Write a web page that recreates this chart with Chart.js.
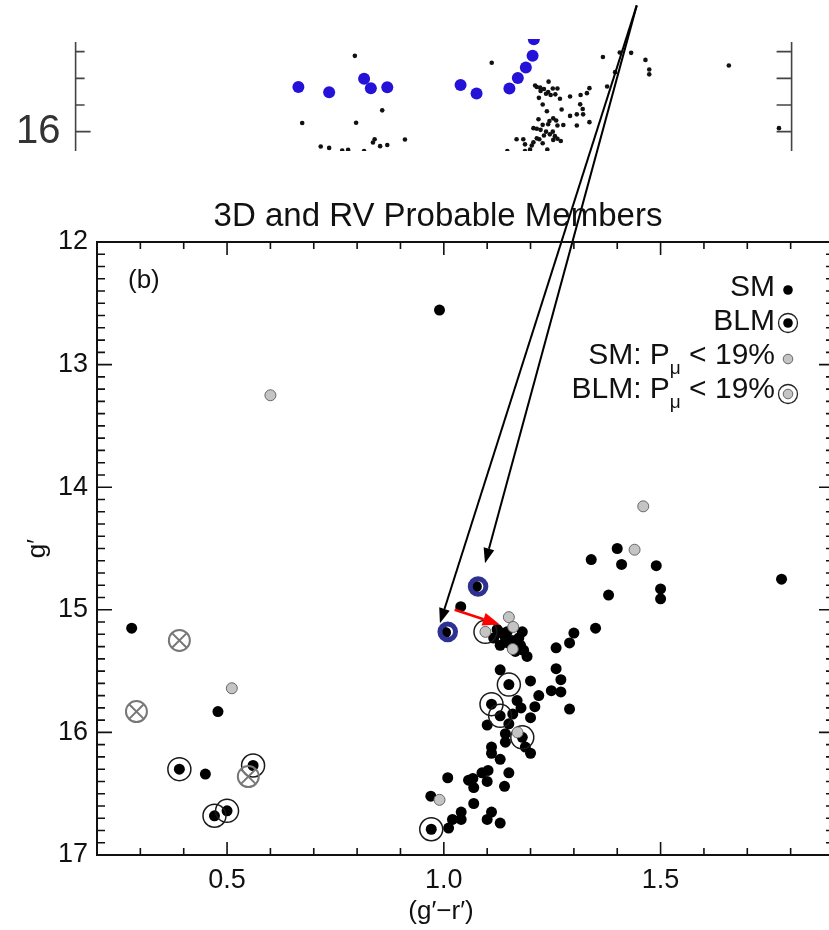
<!DOCTYPE html>
<html>
<head>
<meta charset="utf-8">
<script src="https://cdn.jsdelivr.net/npm/chart.js@4.4.1/dist/chart.umd.min.js"></script>
<style>
html, body { margin: 0; padding: 0; overflow: hidden; background: #fff; }
#wrap { position: relative; width: 829px; height: 930px; overflow: hidden; }
#inset { position: absolute; left: 0; top: 0; z-index: 1; }
#main { position: absolute; left: 0; top: 0; z-index: 2; }
</style>
</head>
<body>
<div id="wrap">
  <canvas id="inset" width="829" height="190" style="width:829px;height:190px"></canvas>
  <canvas id="main" width="847" height="930" style="width:847px;height:930px"></canvas>
</div>
<script>
// ---- panel (b) data: colour (g'-r') and magnitude g' ----
// single members
const smX = [0.99, 1.40, 1.34, 1.41, 1.49, 1.779, 1.50, 1.50, 1.38, 1.039, 1.075, 1.004,
  1.35, 1.30, 1.29, 1.259,
  1.123, 1.134, 1.146, 1.142, 1.157, 1.181, 1.173, 1.13, 1.148, 1.177, 1.165, 1.184, 1.192, 1.115,
  1.259, 1.27, 1.248, 1.27, 1.219, 1.29, 1.20, 1.13, 1.169, 1.178, 1.21, 1.20, 1.159, 1.15, 1.10,
  1.142, 1.142, 1.188, 1.20, 1.11, 1.11, 1.13,
  1.15, 1.088, 1.102, 1.10, 1.057, 1.067, 1.069, 1.14, 1.009, 0.97, 1.069, 1.04, 1.11, 1.02, 1.04,
  1.10, 1.13, 1.011,
  0.28, 0.479, 0.45];
const smY = [12.555, 14.50, 14.59, 14.63, 14.64, 14.75, 14.83, 14.91, 14.88, 14.975, 14.81, 15.185,
  15.15, 15.19, 15.27, 15.31,
  15.16, 15.19, 15.18, 15.23, 15.25, 15.18, 15.23, 15.29, 15.27, 15.29, 15.34, 15.33, 15.38, 15.23,
  15.48, 15.57, 15.66, 15.67, 15.70, 15.81, 15.58, 15.49, 15.74, 15.80, 15.79, 15.88, 15.85, 15.93, 15.94,
  16.01, 16.08, 16.12, 16.17, 16.12, 16.17, 16.22,
  16.33, 16.33, 16.31, 16.40, 16.39, 16.375, 16.45, 16.44, 16.37, 16.52, 16.58, 16.65, 16.65, 16.71, 16.71,
  16.71, 16.74, 16.78,
  15.15, 15.83, 16.34];
// binary-like members
const blmX = [0.39, 0.56, 0.50, 0.471, 0.971, 1.15, 1.11, 1.13, 1.181];
const blmY = [16.30, 16.27, 16.64, 16.68, 16.79, 15.61, 15.77, 15.865, 16.04];
// SM with P_mu < 19%
const smLowX = [0.60, 1.46, 1.44, 0.511, 1.15, 1.16, 1.159, 1.17, 0.99];
const smLowY = [13.25, 14.156, 14.51, 15.64, 15.06, 15.14, 15.32, 16.00, 16.55];
// BLM with P_mu < 19%
const blmLowX = [1.096];
const blmLowY = [15.18];
// crossed circles
const crossX = [0.39, 0.291, 0.549];
const crossY = [15.25, 15.83, 16.36];
// highlighted stars (blue rings)
const ringX = [1.079, 1.009];
const ringY = [14.81, 15.18];
// arrows: from panel (a) stars to panel (b)
const arrowFrom = [[1.445, 10.07], [1.445, 10.07]];
const arrowTo = [[0.991, 15.11], [1.095, 14.62]];
const redFrom = [1.025, 15.00];
const redTo = [1.129, 15.12];

const xTickValues = [0.5, 1.0, 1.5];
const xTickLabels = ['0.5', '1.0', '1.5'];
const yTickValues = [12, 13, 14, 15, 16, 17];
const yTickLabels = ['12', '13', '14', '15', '16', '17'];

// ---- panel (a) crop at the top ----
const aBlueX = [0.729, 0.802, 0.885, 0.901, 0.94, 1.114, 1.152, 1.23, 1.25, 1.269, 1.285, 1.288];
const aBlueY = [15.581, 15.631, 15.504, 15.594, 15.583, 15.5625, 15.642, 15.596, 15.496, 15.398, 15.289, 15.133];
const aStarX = [0.863, 1.188, 0.738, 0.866, 0.928, 0.782, 0.802, 0.833, 0.847, 0.885, 0.91, 0.906, 0.923, 0.94, 0.982,
  1.452, 1.492, 1.519, 1.553, 1.562, 1.562, 1.751, 1.481, 1.462, 1.42, 1.87,
  1.323, 1.291, 1.295, 1.303, 1.312, 1.322, 1.333, 1.344, 1.304, 1.317, 1.328, 1.339, 1.30, 1.35, 1.374, 1.399, 1.414,
  1.309, 1.354, 1.319, 1.398, 1.404, 1.374, 1.39, 1.405, 1.299, 1.334, 1.341, 1.325, 1.309, 1.322, 1.344, 1.358, 1.39, 1.42,
  1.295, 1.287, 1.304, 1.317, 1.333, 1.326, 1.312, 1.338, 1.344, 1.301, 1.295, 1.247, 1.263, 1.287, 1.309, 1.334, 1.352,
  1.267, 1.283, 1.279, 1.32, 1.225, 1.267];
const aStarY = [15.289, 15.354, 15.919, 15.917, 15.80, 16.139, 16.152, 16.177, 16.171, 16.181, 16.071, 16.102, 16.136, 16.125, 16.073,
  15.30, 15.258, 15.261, 15.327, 15.417, 15.4625, 15.379, 15.442, 15.577, 15.592, 15.967,
  15.531, 15.567, 15.581, 15.5875, 15.60, 15.629, 15.596, 15.596, 15.619, 15.644, 15.656, 15.65, 15.683, 15.692, 15.671, 15.656, 15.639,
  15.746, 15.792, 15.808, 15.744, 15.7875, 15.852, 15.8375, 15.8375, 15.883, 15.875, 15.896, 15.90, 15.936, 15.931, 15.942, 15.9375, 15.942, 15.911,
  15.973, 15.967, 15.983, 16.00, 16.00, 16.025, 16.036, 16.042, 16.067, 16.071, 16.0625, 16.071, 16.071, 16.10, 16.108, 16.077, 16.0875,
  16.119, 16.129, 16.167, 16.167, 16.181, 16.181];
const aYTicks = [15.25, 15.5, 15.75, 16];
const aYLabelValues = [16];
const aYLabels = ['16'];

const FONT = "'Liberation Sans', Arial, Helvetica, sans-serif";
const pts = (xs, ys) => xs.map((v, i) => ({ x: v, y: ys[i] }));
const clear = 'rgba(0,0,0,0)';

// inward tick marks + frame for panel (b)
const frameTicks = {
  id: 'frameTicks',
  afterDraw(chart) {
    const { ctx, chartArea: a, scales: { x, y } } = chart;
    ctx.save();
    ctx.strokeStyle = '#111';
    ctx.lineWidth = 2;
    ctx.strokeRect(a.left, a.top, a.right - a.left, a.bottom - a.top);
    ctx.lineWidth = 1.6;
    ctx.beginPath();
    for (let i = 3; i < 19; i++) {
      const px = x.getPixelForValue(i / 10);
      const len = i % 5 === 0 ? 13 : 7;
      ctx.moveTo(px, a.bottom); ctx.lineTo(px, a.bottom - len);
      ctx.moveTo(px, a.top); ctx.lineTo(px, a.top + len);
    }
    for (let i = 121; i < 170; i++) {
      const py = y.getPixelForValue(i / 10);
      const len = i % 10 === 0 ? 15 : 8;
      ctx.moveTo(a.left, py); ctx.lineTo(a.left + len, py);
      ctx.moveTo(a.right, py); ctx.lineTo(a.right - len, py);
    }
    ctx.stroke();
    ctx.restore();
  }
};

function drawArrow(ctx, x0, y0, x1, y1, color, lw, headLen, headW) {
  const ang = Math.atan2(y1 - y0, x1 - x0);
  const bx = x1 - headLen * Math.cos(ang), by = y1 - headLen * Math.sin(ang);
  ctx.strokeStyle = color; ctx.fillStyle = color; ctx.lineWidth = lw;
  ctx.beginPath(); ctx.moveTo(x0, y0); ctx.lineTo(bx, by); ctx.stroke();
  ctx.beginPath();
  ctx.moveTo(x1, y1);
  ctx.lineTo(bx + headW * Math.sin(ang), by - headW * Math.cos(ang));
  ctx.lineTo(bx - headW * Math.sin(ang), by + headW * Math.cos(ang));
  ctx.closePath(); ctx.fill();
}

// title, panel tag, x title, legend and arrows
const annotations = {
  id: 'annotations',
  afterDatasetsDraw(chart) {
    const { ctx, scales: { x, y } } = chart;
    ctx.save();
    arrowFrom.forEach((f, i) => {
      const t = arrowTo[i];
      drawArrow(ctx, x.getPixelForValue(f[0]), y.getPixelForValue(f[1]),
        x.getPixelForValue(t[0]), y.getPixelForValue(t[1]), '#000', 2, 15, 5.5);
    });
    drawArrow(ctx, x.getPixelForValue(redFrom[0]), y.getPixelForValue(redFrom[1]),
      x.getPixelForValue(redTo[0]), y.getPixelForValue(redTo[1]), '#f00', 2.5, 17, 6.5);
    ctx.restore();
  },
  afterDraw(chart) {
    const { ctx } = chart;
    ctx.save();
    ctx.fillStyle = '#111';
    ctx.textBaseline = 'middle';
    ctx.textAlign = 'center';
    ctx.font = `33px ${FONT}`;
    ctx.fillText('3D and RV Probable Members', 438, 217);
    ctx.font = `26px ${FONT}`;
    ctx.fillText('(g′−r′)', 441, 912);
    ctx.textAlign = 'left';
    ctx.fillText('(b)', 128, 281);

    // legend
    const right = 775, mx = 788;
    const rows = [
      { parts: ['SM'], y: 288, my: 290, fill: '#000', ring: false },
      { parts: ['BLM'], y: 322, my: 323, fill: '#000', ring: true },
      { parts: ['SM: P', 'μ', ' < 19%'], y: 356, my: 359, fill: '#c4c4c4', ring: false },
      { parts: ['BLM: P', 'μ', ' < 19%'], y: 390, my: 394, fill: '#c4c4c4', ring: true }
    ];
    rows.forEach(r => {
      const fonts = r.parts.map((p, i) => i === 1 ? `19px ${FONT}` : `30px ${FONT}`);
      let w = 0;
      r.parts.forEach((p, i) => { ctx.font = fonts[i]; w += ctx.measureText(p).width; });
      let cx = right - w;
      r.parts.forEach((p, i) => {
        ctx.font = fonts[i];
        ctx.fillText(p, cx, i === 1 ? r.y + 13 : r.y);
        cx += ctx.measureText(p).width;
      });
      if (r.ring) {
        ctx.beginPath(); ctx.arc(mx, r.my, 9.5, 0, Math.PI * 2);
        ctx.strokeStyle = '#222'; ctx.lineWidth = 1.3; ctx.stroke();
      }
      ctx.beginPath(); ctx.arc(mx, r.my, 4.8, 0, Math.PI * 2);
      ctx.fillStyle = r.fill; ctx.fill();
      if (r.fill !== '#000') { ctx.strokeStyle = '#666'; ctx.lineWidth = 1; ctx.stroke(); }
      ctx.fillStyle = '#111';
    });
    ctx.restore();
  }
};

new Chart(document.getElementById('main'), {
  type: 'scatter',
  data: {
    datasets: [
      { data: pts(ringX, ringY), pointRadius: 7.8, borderWidth: 5, borderColor: '#2e3192', backgroundColor: clear, order: 0 },
      { data: pts(crossX, crossY), pointRadius: 10.5, borderWidth: 2, borderColor: '#777', backgroundColor: clear, order: 1 },
      { data: pts(crossX, crossY), pointStyle: 'crossRot', pointRadius: 10, borderWidth: 2, borderColor: '#777', order: 1 },
      { data: pts(blmLowX, blmLowY), pointRadius: 11.5, borderWidth: 1.5, borderColor: '#1a1a1a', backgroundColor: clear, order: 2 },
      { data: pts(blmLowX, blmLowY), pointRadius: 5.5, borderWidth: 1, borderColor: '#666', backgroundColor: '#c4c4c4', order: 2 },
      { data: pts(smLowX, smLowY), pointRadius: 5.5, borderWidth: 1, borderColor: '#666', backgroundColor: '#c4c4c4', order: 3 },
      { data: pts(blmX, blmY), pointRadius: 11.5, borderWidth: 1.5, borderColor: '#1a1a1a', backgroundColor: clear, order: 4 },
      { data: pts(blmX, blmY), pointRadius: 5.5, borderWidth: 0, backgroundColor: '#000', order: 4 },
      { data: pts(smX, smY), pointRadius: 5.5, borderWidth: 0, backgroundColor: '#000', order: 5 }
    ]
  },
  options: {
    responsive: false,
    animation: false,
    events: [],
    layout: { padding: { top: 242, right: 4, left: 0, bottom: 0 } },
    plugins: { legend: { display: false }, tooltip: { enabled: false } },
    scales: {
      x: {
        type: 'linear', min: 0.2, max: 1.9,
        grid: { display: false, drawTicks: false },
        border: { display: false },
        afterBuildTicks: s => { s.ticks = xTickValues.map(v => ({ value: v })); },
        afterFit: s => { s.height = 75; s.paddingLeft = 0; s.paddingRight = 0; },
        ticks: {
          font: { family: FONT, size: 27 }, color: '#111', padding: 9, maxRotation: 0,
          callback: v => xTickLabels[xTickValues.indexOf(v)]
        }
      },
      y: {
        type: 'linear', min: 12, max: 17, reverse: true,
        grid: { display: false, drawTicks: false },
        border: { display: false },
        afterBuildTicks: s => { s.ticks = yTickValues.map(v => ({ value: v })); },
        afterFit: s => { s.width = 97; },
        ticks: {
          font: { family: FONT, size: 27 }, color: '#111', padding: 9,
          callback: v => yTickLabels[yTickValues.indexOf(v)]
        },
        title: { display: true, text: 'g′', font: { family: FONT, size: 26 }, color: '#111', padding: { top: 22, bottom: 22 } }
      }
    }
  },
  plugins: [frameTicks, annotations]
});

// axis lines and ticks of the panel (a) crop
const insetFrame = {
  id: 'insetFrame',
  afterDraw(chart) {
    const { ctx, chartArea: a, scales: { y } } = chart;
    ctx.save();
    ctx.strokeStyle = '#444';
    ctx.lineWidth = 1.6;
    ctx.beginPath();
    ctx.moveTo(a.left, a.top + 3); ctx.lineTo(a.left, a.bottom);
    ctx.moveTo(a.right, a.top + 3); ctx.lineTo(a.right, a.bottom);
    aYTicks.forEach(v => {
      const py = y.getPixelForValue(v);
      ctx.moveTo(a.left, py); ctx.lineTo(a.left + (v === 16 ? 15 : 9), py);
      ctx.moveTo(a.right, py); ctx.lineTo(a.right - 15, py);
    });
    ctx.stroke();
    ctx.restore();
  }
};

new Chart(document.getElementById('inset'), {
  type: 'scatter',
  data: {
    datasets: [
      { data: pts(aBlueX, aBlueY), pointRadius: 6, borderWidth: 0, backgroundColor: '#2412d8', order: 0 },
      { data: pts(aStarX, aStarY), pointRadius: 2.3, borderWidth: 0, backgroundColor: '#111', order: 1 }
    ]
  },
  options: {
    responsive: false,
    animation: false,
    events: [],
    layout: { padding: { top: 17, right: 37.4, left: 0, bottom: 5 } },
    plugins: { legend: { display: false }, tooltip: { enabled: false } },
    scales: {
      x: { type: 'linear', min: 0.2, max: 1.9, display: false },
      y: {
        type: 'linear', min: 15.13125, max: 16.18125, reverse: true,
        grid: { display: false, drawTicks: false },
        border: { display: false },
        afterBuildTicks: s => { s.ticks = aYLabelValues.map(v => ({ value: v })); },
        afterFit: s => { s.width = 75.6; },
        ticks: {
          font: { family: FONT, size: 40 }, color: '#333', padding: 15,
          callback: v => aYLabels[aYLabelValues.indexOf(v)]
        }
      }
    }
  },
  plugins: [insetFrame]
});
</script>
</body>
</html>
